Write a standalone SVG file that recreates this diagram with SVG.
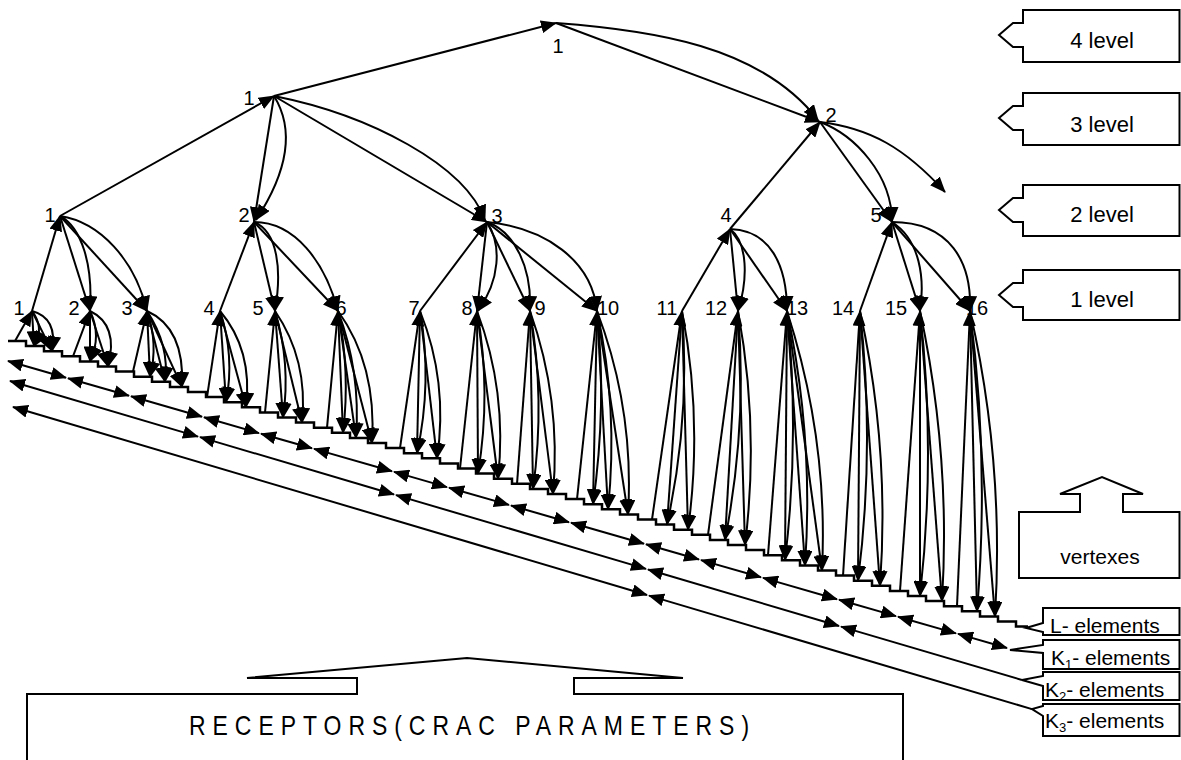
<svg xmlns="http://www.w3.org/2000/svg" width="1181" height="760" viewBox="0 0 1181 760">
<defs>
<marker id="ah" viewBox="0 0 16 13" refX="15" refY="6.5" markerWidth="16" markerHeight="13" markerUnits="userSpaceOnUse" orient="auto"><path d="M0,0 L16,6.5 L0,13 z" fill="#000"/></marker>
<marker id="ahs" viewBox="0 0 16 13" refX="15" refY="6.5" markerWidth="16" markerHeight="13" markerUnits="userSpaceOnUse" orient="auto-start-reverse"><path d="M0,0 L16,6.5 L0,13 z" fill="#000"/></marker>
<style>
.e{stroke:#000;stroke-width:2;fill:none;marker-end:url(#ah)}
.k{stroke:#000;stroke-width:2;fill:none;marker-start:url(#ahs);marker-end:url(#ah)}
.ks{stroke:#000;stroke-width:2;fill:none;marker-start:url(#ahs)}
.st{stroke:#000;stroke-width:2.5;fill:none}
.box{fill:#fff;stroke:#000;stroke-width:2}
.ob{fill:none;stroke:#000;stroke-width:2}
.lbl{font-family:"Liberation Sans Narrow","Liberation Sans",Arial,sans-serif;font-size:20px;fill:#000;text-anchor:middle}
.leg{font-family:"Liberation Sans",Arial,sans-serif;font-size:22px;fill:#000;text-anchor:middle}
.el{font-family:"Liberation Sans",Arial,sans-serif;font-size:21px;fill:#000}
.rec{font-family:"Liberation Sans",Arial,sans-serif;font-size:28px;fill:#000}
</style>
</defs>
<rect width="1181" height="760" fill="#fff"/>

<g id="connectors">
<!-- upper tree -->
<line class="e" x1="274" y1="96" x2="556" y2="23"/>
<line class="e" x1="556" y1="23" x2="820" y2="122"/>
<path class="e" d="M556,23 C650,30 760,45 818,120"/>
<line class="e" x1="60" y1="216" x2="274" y2="96"/>
<line class="e" x1="274" y1="96" x2="254" y2="222"/>
<path class="e" d="M274,96 C292,125 292,165 256,220"/>
<line class="e" x1="274" y1="96" x2="487" y2="222"/>
<path class="e" d="M274,96 C370,115 465,165 485,220"/>
<line class="e" x1="730" y1="229" x2="820" y2="122"/>
<line class="e" x1="820" y1="122" x2="892" y2="222"/>
<path class="e" d="M820,122 C855,135 892,175 892,222"/>
<path class="e" d="M820,122 C870,128 905,148 945,192"/>
<!-- level 2 to level 1 -->
<line class="e" x1="32" y1="311" x2="60" y2="216"/>
<line class="e" x1="60" y1="216" x2="90" y2="311"/>
<path class="e" d="M60,216 C82,228 93,265 90,311"/>
<line class="e" x1="60" y1="216" x2="147" y2="311"/>
<path class="e" d="M60,216 C100,222 135,260 147,311"/>
<line class="e" x1="220" y1="311" x2="254" y2="222"/>
<line class="e" x1="254" y1="222" x2="275" y2="311"/>
<path class="e" d="M254,222 C278,232 282,270 275,311"/>
<line class="e" x1="254" y1="222" x2="338" y2="311"/>
<path class="e" d="M254,222 C295,222 325,262 338,311"/>
<line class="e" x1="420" y1="311" x2="487" y2="222"/>
<line class="e" x1="487" y1="222" x2="477" y2="311"/>
<path class="e" d="M487,222 C502,245 500,280 478,311"/>
<line class="e" x1="487" y1="222" x2="530" y2="311"/>
<path class="e" d="M487,222 C515,232 532,268 530,311"/>
<line class="e" x1="487" y1="222" x2="597" y2="311"/>
<path class="e" d="M487,222 C545,228 592,260 597,311"/>
<line class="e" x1="682" y1="311" x2="730" y2="229"/>
<line class="e" x1="730" y1="229" x2="738" y2="311"/>
<path class="e" d="M730,229 C748,242 748,280 738,311"/>
<line class="e" x1="730" y1="229" x2="787" y2="311"/>
<path class="e" d="M730,229 C770,230 787,265 787,311"/>
<line class="e" x1="860" y1="311" x2="892" y2="222"/>
<line class="e" x1="892" y1="222" x2="920" y2="311"/>
<path class="e" d="M892,222 C920,240 925,278 920,311"/>
<line class="e" x1="892" y1="222" x2="970" y2="311"/>
<path class="e" d="M892,222 C950,222 972,262 970,311"/>

<!-- L-elements staircase -->
<path class="st" d="M8,341 h18v5.1h18v5.1h18v5.1h18v5.1h18v5.1h18v5.1h18v5.1h18v5.1 h18v5.1h18v5.1h18v5.1h18v5.1h18v5.1h18v5.1h18v5.1h18v5.1 h18v5.1h18v5.1h18v5.1h18v5.1h18v5.1h18v5.1h18v5.1h18v5.1 h18v5.1h18v5.1h18v5.1h18v5.1h18v5.1h18v5.1h18v5.1h18v5.1 h18v5.1h18v5.1h18v5.1h18v5.1h18v5.1h18v5.1h18v5.1h18v5.1 h18v5.1h18v5.1h18v5.1h18v5.1h18v5.1h18v5.1h18v5.1h18v5.1 h18v5.1h18v5.1h18v5.1h18v5.1h18v5.1h18v5.1h18v5.1h18v5.1 h12"/>

<!-- level 1 to L-elements -->
<line class="e" x1="15" y1="341" x2="32" y2="311"/>
<line class="e" x1="32" y1="311" x2="34" y2="346.1"/>
<path class="e" d="M32,311 Q45,328 34,346.1"/>
<line class="e" x1="32" y1="311" x2="52" y2="351.2"/>
<path class="e" d="M32,311 Q58,318 52,351.2"/>

<line class="e" x1="73" y1="356.3" x2="90" y2="311"/>
<line class="e" x1="90" y1="311" x2="90" y2="361.4"/>
<path class="e" d="M90,311 Q102,336 90,361.4"/>
<line class="e" x1="90" y1="311" x2="108" y2="366.5"/>
<path class="e" d="M90,311 Q119,325 108,366.5"/>

<line class="e" x1="133" y1="371.6" x2="147" y2="311"/>
<line class="e" x1="147" y1="311" x2="150" y2="376.7"/>
<path class="e" d="M147,311 Q158.5,344 150,376.7"/>
<line class="e" x1="147" y1="311" x2="165" y2="381.8"/>
<path class="e" d="M147,311 Q170,346 165,381.8"/>
<line class="e" x1="147" y1="311" x2="182" y2="386.9"/>
<path class="e" d="M147,311 Q185,328 182,386.9"/>

<line class="e" x1="207" y1="397.1" x2="220" y2="311"/>
<line class="e" x1="220" y1="311" x2="226" y2="402.2"/>
<path class="e" d="M220,311 Q235,356 226,402.2"/>
<line class="e" x1="220" y1="311" x2="246" y2="407.3"/>
<path class="e" d="M220,311 Q253,350 246,407.3"/>

<line class="e" x1="265" y1="412.4" x2="275" y2="311"/>
<line class="e" x1="275" y1="311" x2="283" y2="417.5"/>
<path class="e" d="M275,311 Q291,364 283,417.5"/>
<line class="e" x1="275" y1="311" x2="302" y2="422.6"/>
<path class="e" d="M275,311 Q308.5,360 302,422.6"/>

<line class="e" x1="327" y1="427.7" x2="338" y2="311"/>
<line class="e" x1="338" y1="311" x2="343" y2="432.8"/>
<path class="e" d="M338,311 Q350.5,372 343,432.8"/>
<line class="e" x1="338" y1="311" x2="356" y2="437.9"/>
<path class="e" d="M338,311 Q361,372 356,437.9"/>
<line class="e" x1="338" y1="311" x2="372" y2="443"/>
<path class="e" d="M338,311 Q377,365 372,443"/>

<line class="e" x1="400" y1="448.1" x2="420" y2="311"/>
<line class="e" x1="420" y1="311" x2="417" y2="453.2"/>
<path class="e" d="M420,311 Q432.5,382 417,453.2"/>
<line class="e" x1="420" y1="311" x2="437" y2="458.3"/>
<path class="e" d="M420,311 Q448.5,382 437,458.3"/>

<line class="e" x1="460" y1="468.5" x2="477" y2="311"/>
<line class="e" x1="477" y1="311" x2="478" y2="473.6"/>
<path class="e" d="M477,311 Q491.5,392 478,473.6"/>
<line class="e" x1="477" y1="311" x2="498" y2="478.7"/>
<path class="e" d="M477,311 Q507.5,392 498,478.7"/>

<line class="e" x1="517" y1="483.8" x2="530" y2="311"/>
<line class="e" x1="530" y1="311" x2="533" y2="488.9"/>
<path class="e" d="M530,311 Q545.5,400 533,488.9"/>
<line class="e" x1="530" y1="311" x2="553" y2="494"/>
<path class="e" d="M530,311 Q561.5,400 553,494"/>

<line class="e" x1="577" y1="499.1" x2="597" y2="311"/>
<line class="e" x1="597" y1="311" x2="593" y2="504.2"/>
<path class="e" d="M597,311 Q607,405 593,504.2"/>
<line class="e" x1="597" y1="311" x2="608" y2="509.3"/>
<path class="e" d="M597,311 Q618.5,408 608,509.3"/>
<line class="e" x1="597" y1="311" x2="628" y2="514.4"/>
<path class="e" d="M597,311 Q634.5,410 628,514.4"/>

<line class="e" x1="652" y1="519.5" x2="682" y2="311"/>
<line class="e" x1="682" y1="311" x2="667" y2="524.6"/>
<path class="e" d="M682,311 Q690.5,418 667,524.6"/>
<line class="e" x1="682" y1="311" x2="688" y2="529.7"/>
<path class="e" d="M682,311 Q703,420 688,529.7"/>

<line class="e" x1="708" y1="534.8" x2="738" y2="311"/>
<line class="e" x1="738" y1="311" x2="725" y2="539.9"/>
<path class="e" d="M738,311 Q747.5,425 725,539.9"/>
<line class="e" x1="738" y1="311" x2="745" y2="545"/>
<path class="e" d="M738,311 Q759.5,428 745,545"/>

<line class="e" x1="768" y1="555.2" x2="787" y2="311"/>
<line class="e" x1="787" y1="311" x2="785" y2="560.3"/>
<path class="e" d="M787,311 Q800,435 785,560.3"/>
<line class="e" x1="787" y1="311" x2="805" y2="565.4"/>
<path class="e" d="M787,311 Q814,438 805,565.4"/>
<line class="e" x1="787" y1="311" x2="822" y2="570.5"/>
<path class="e" d="M787,311 Q828.5,440 822,570.5"/>

<line class="e" x1="843" y1="575.6" x2="860" y2="311"/>
<line class="e" x1="860" y1="311" x2="858" y2="580.7"/>
<path class="e" d="M860,311 Q875,446 858,580.7"/>
<line class="e" x1="860" y1="311" x2="880" y2="585.8"/>
<path class="e" d="M860,311 Q890,448 880,585.8"/>

<line class="e" x1="900" y1="590.9" x2="920" y2="311"/>
<line class="e" x1="920" y1="311" x2="920" y2="596"/>
<path class="e" d="M920,311 Q936,453 920,596"/>
<line class="e" x1="920" y1="311" x2="942" y2="601.1"/>
<path class="e" d="M920,311 Q951,456 942,601.1"/>

<line class="e" x1="957" y1="606.2" x2="970" y2="311"/>
<line class="e" x1="970" y1="311" x2="977" y2="611.3"/>
<path class="e" d="M970,311 Q989.5,460 977,611.3"/>
<line class="e" x1="970" y1="311" x2="995" y2="616.4"/>
<path class="e" d="M970,311 Q1004.5,463 995,616.4"/>

<!-- K1 elements -->
<line class="k" x1="8" y1="361" x2="66" y2="377.7"/>
<line class="k" x1="68" y1="378.2" x2="129" y2="395.8"/>
<line class="k" x1="131" y1="396.3" x2="202" y2="416.7"/>
<line class="k" x1="204" y1="417.3" x2="259" y2="433.1"/>
<line class="k" x1="261" y1="433.7" x2="312" y2="448.3"/>
<line class="k" x1="314" y1="448.9" x2="392" y2="471.3"/>
<line class="k" x1="394" y1="471.9" x2="447" y2="487.1"/>
<line class="k" x1="449" y1="487.7" x2="509" y2="504.9"/>
<line class="k" x1="511" y1="505.5" x2="569" y2="522.2"/>
<line class="k" x1="571" y1="522.8" x2="644" y2="543.7"/>
<line class="k" x1="646" y1="544.3" x2="699" y2="559.5"/>
<line class="k" x1="701" y1="560.1" x2="761" y2="577.3"/>
<line class="k" x1="763" y1="577.9" x2="837" y2="599.2"/>
<line class="k" x1="839" y1="599.7" x2="896" y2="616.1"/>
<line class="k" x1="898" y1="616.7" x2="956" y2="633.4"/>
<line class="k" x1="958" y1="633.9" x2="1007" y2="648"/>
<!-- K2 elements -->
<line class="k" x1="10" y1="381" x2="198" y2="436.6"/>
<line class="k" x1="200" y1="437.1" x2="394" y2="494.5"/>
<line class="k" x1="396" y1="495.1" x2="646" y2="568.9"/>
<line class="k" x1="648" y1="569.5" x2="839" y2="626"/>
<line class="ks" x1="841" y1="626.6" x2="1022" y2="680"/>
<!-- K3 elements -->
<line class="k" x1="13" y1="407" x2="647" y2="595"/>
<line class="ks" x1="649" y1="595.6" x2="1032" y2="709.1"/>
</g>

<g id="node-l4-1"><text class="lbl" x="558" y="53">1</text></g>
<g id="node-l3-1"><text class="lbl" x="249" y="105">1</text></g>
<g id="node-l3-2"><text class="lbl" x="831" y="122">2</text></g>
<g id="node-l2-1"><text class="lbl" x="50" y="222">1</text></g>
<g id="node-l2-2"><text class="lbl" x="244" y="222">2</text></g>
<g id="node-l2-3"><text class="lbl" x="497" y="223">3</text></g>
<g id="node-l2-4"><text class="lbl" x="726" y="222">4</text></g>
<g id="node-l2-5"><text class="lbl" x="876" y="222">5</text></g>
<g id="node-l1-1"><text class="lbl" x="19" y="315">1</text></g>
<g id="node-l1-2"><text class="lbl" x="74" y="315">2</text></g>
<g id="node-l1-3"><text class="lbl" x="127" y="315">3</text></g>
<g id="node-l1-4"><text class="lbl" x="209" y="315">4</text></g>
<g id="node-l1-5"><text class="lbl" x="258" y="315">5</text></g>
<g id="node-l1-6"><text class="lbl" x="341" y="315">6</text></g>
<g id="node-l1-7"><text class="lbl" x="414" y="315">7</text></g>
<g id="node-l1-8"><text class="lbl" x="467" y="315">8</text></g>
<g id="node-l1-9"><text class="lbl" x="540" y="315">9</text></g>
<g id="node-l1-10"><text class="lbl" x="608" y="315">10</text></g>
<g id="node-l1-11"><text class="lbl" x="667" y="315">11</text></g>
<g id="node-l1-12"><text class="lbl" x="716" y="315">12</text></g>
<g id="node-l1-13"><text class="lbl" x="797" y="315">13</text></g>
<g id="node-l1-14"><text class="lbl" x="843" y="315">14</text></g>
<g id="node-l1-15"><text class="lbl" x="896" y="315">15</text></g>
<g id="node-l1-16"><text class="lbl" x="977" y="315">16</text></g>

<g id="legend-4-level"><path class="box" d="M1023,10 H1179.5 V62 H1023 V47 H1013 L999,35 L1013,23 H1023 Z"/><text class="leg" x="1102" y="48">4 level</text></g>
<g id="legend-3-level"><path class="box" d="M1023,93 H1179.5 V145 H1023 V130 H1013 L999,118 L1013,106 H1023 Z"/><text class="leg" x="1102" y="132">3 level</text></g>
<g id="legend-2-level"><path class="box" d="M1023,185 H1179.5 V236 H1023 V222 H1013 L999,210 L1013,198 H1023 Z"/><text class="leg" x="1102" y="222">2 level</text></g>
<g id="legend-1-level"><path class="box" d="M1023,270 H1179.5 V320 H1023 V307 H1013 L999,295 L1013,283 H1023 Z"/><text class="leg" x="1102" y="307">1 level</text></g>
<g id="legend-vertexes"><path class="box" d="M1019,578 V512 H1080 V494 H1060 L1102,477 L1143,494 H1123 V512 H1179.5 V578 Z"/><text class="leg" x="1100" y="564" style="font-size:21px">vertexes</text></g>

<g id="legend-L"><path class="box" d="M1043,608 H1179.5 V635 H1043 V632 L1026,628 L1043,623 Z"/><text class="el" x="1050" y="633">L- elements</text></g>
<g id="legend-K1"><path class="box" d="M1043,640 H1179.5 V669 H1043 V653 L1010,650 L1043,645 Z"/><text class="el" x="1051" y="665">K<tspan font-size="13" dy="4">1</tspan><tspan dy="-4">- elements</tspan></text></g>
<g id="legend-K2"><path class="box" d="M1043,672 H1179.5 V700 H1043 V686 L1022,680 L1043,676 Z"/><text class="el" x="1045" y="697">K<tspan font-size="13" dy="4">2</tspan><tspan dy="-4">- elements</tspan></text></g>
<g id="legend-K3"><path class="box" d="M1043,704 H1179.5 V736 H1043 V716 L1032,709 L1043,706 Z"/><text class="el" x="1045" y="728">K<tspan font-size="13" dy="4">3</tspan><tspan dy="-4">- elements</tspan></text></g>

<g id="receptors"><path class="ob" d="M27,760 V694 H357 V678 H247 L467,658 L683,678 H574 V694 H903 V760"/><text class="rec" transform="translate(189,735) scale(0.82,1)" x="0" y="0" textLength="683" lengthAdjust="spacing">RECEPTORS(CRAC PARAMETERS)</text></g>
</svg>
